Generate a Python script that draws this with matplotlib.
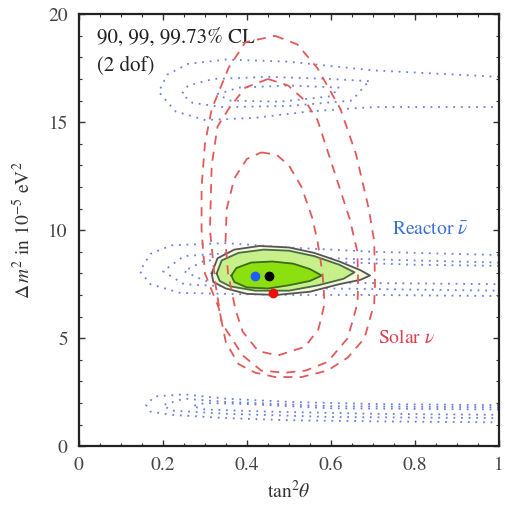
import numpy as np
import matplotlib.pyplot as plt
from matplotlib.ticker import MultipleLocator

plt.rcParams['font.family'] = ['STIXGeneral', 'DejaVu Serif']
plt.rcParams['mathtext.fontset'] = 'stix'

# contour outlines, (tan^2 theta, dm^2 in 1e-5 eV^2)
solar_90 = [(0.434, 13.6), (0.47, 13.5), (0.50, 13.0), (0.53, 12.0), (0.555, 10.6),
            (0.568, 9.5), (0.58, 8.0), (0.585, 6.6), (0.57, 5.4), (0.538, 4.6),
            (0.474, 4.2), (0.427, 4.4), (0.39, 5.3), (0.373, 6.3), (0.355, 8.0),
            (0.349, 9.5), (0.352, 11.0), (0.37, 12.4), (0.40, 13.3)]
solar_99 = [(0.45, 17.0), (0.498, 16.7), (0.538, 16.0), (0.568, 15.1), (0.61, 12.6),
            (0.645, 10.5), (0.663, 9.0), (0.665, 7.5), (0.663, 6.6), (0.64, 5.0),
            (0.592, 3.9), (0.54, 3.5), (0.49, 3.4), (0.434, 3.5), (0.39, 4.2),
            (0.34, 5.7), (0.325, 7.5), (0.312, 10.0), (0.316, 13.0), (0.33, 14.8),
            (0.356, 15.6), (0.396, 16.6)]
solar_9973 = [(0.467, 19.0), (0.52, 18.6), (0.568, 17.5), (0.623, 15.6), (0.66, 13.5),
              (0.69, 11.0), (0.703, 9.5), (0.705, 7.5), (0.703, 6.6), (0.68, 5.0),
              (0.64, 4.1), (0.592, 3.5), (0.53, 3.2), (0.467, 3.2), (0.42, 3.4),
              (0.38, 3.8), (0.35, 4.8), (0.333, 6.4), (0.30, 8.0), (0.292, 10.0),
              (0.292, 12.0), (0.30, 14.0), (0.316, 15.6), (0.356, 17.5), (0.396, 18.7)]

reactor_top = [
    [(1.0, 17.1), (0.7, 17.4), (0.5, 17.8), (0.35, 17.9), (0.26, 17.7), (0.21, 17.2),
     (0.19, 16.4), (0.23, 15.5), (0.30, 15.1), (0.42, 15.2), (0.55, 15.5), (0.7, 15.7), (1.0, 15.7)],
    [(0.69, 16.9), (0.6, 17.0), (0.45, 17.1), (0.32, 17.0), (0.26, 16.7), (0.245, 16.3),
     (0.27, 15.9), (0.34, 15.7), (0.5, 15.75), (0.65, 16.0), (0.69, 16.9)],
    [(0.62, 16.6), (0.5, 16.7), (0.38, 16.6), (0.33, 16.3), (0.36, 16.0), (0.48, 15.95),
     (0.6, 16.2), (0.62, 16.6)],
]
reactor_mid = [
    [(1.0, 8.85), (0.7, 9.0), (0.5, 9.2), (0.35, 9.4), (0.22, 9.3), (0.17, 8.9),
     (0.145, 8.1), (0.17, 7.5), (0.24, 7.1), (0.35, 7.05), (0.5, 7.0), (0.7, 7.0), (1.0, 6.95)],
    [(1.0, 8.5), (0.6, 8.7), (0.4, 9.0), (0.25, 8.8), (0.2, 8.1), (0.25, 7.5),
     (0.4, 7.35), (0.6, 7.3), (1.0, 7.2)],
    [(1.0, 8.35), (0.8, 8.4), (0.5, 8.6), (0.3, 8.6), (0.25, 8.1), (0.3, 7.65),
     (0.5, 7.6), (0.7, 7.55), (1.0, 7.5)],
]
reactor_low = [
    [(1.0, 1.9), (0.7, 1.95), (0.5, 2.05), (0.35, 2.2), (0.25, 2.4), (0.18, 2.3),
     (0.16, 1.9), (0.17, 1.6), (0.22, 1.45), (0.35, 1.3), (0.5, 1.2), (0.7, 1.15), (1.0, 1.1)],
    [(1.0, 1.8), (0.6, 1.85), (0.35, 2.05), (0.25, 2.2), (0.2, 1.9), (0.22, 1.65),
     (0.35, 1.5), (0.6, 1.35), (1.0, 1.3)],
    [(1.0, 1.7), (0.6, 1.75), (0.4, 1.95), (0.3, 2.0), (0.27, 1.85), (0.3, 1.7),
     (0.45, 1.6), (0.7, 1.5), (1.0, 1.45)],
]

combined_9973 = [(0.316, 8.0), (0.33, 8.7), (0.37, 9.1), (0.43, 9.27), (0.5, 9.2),
                 (0.56, 8.95), (0.62, 8.55), (0.67, 8.15), (0.693, 7.9), (0.67, 7.7),
                 (0.62, 7.5), (0.55, 7.15), (0.47, 7.0), (0.40, 7.05), (0.35, 7.3), (0.32, 7.6)]
combined_99 = [(0.328, 8.0), (0.34, 8.6), (0.38, 8.95), (0.44, 9.1), (0.5, 9.05),
               (0.56, 8.8), (0.62, 8.4), (0.656, 8.05), (0.63, 7.75), (0.57, 7.45),
               (0.5, 7.2), (0.42, 7.2), (0.36, 7.4), (0.335, 7.65)]
combined_90 = [(0.363, 7.9), (0.375, 8.25), (0.41, 8.5), (0.46, 8.55), (0.51, 8.45),
               (0.55, 8.2), (0.578, 7.9), (0.55, 7.65), (0.5, 7.45), (0.45, 7.3),
               (0.40, 7.35), (0.37, 7.6)]

best_kamland = (0.42, 7.9)
best_global = (0.453, 7.9)
best_solar = (0.462, 7.1)

x_ticks = [0, 0.2, 0.4, 0.6, 0.8, 1.0]
x_tick_labels = ['0', '0.2', '0.4', '0.6', '0.8', '1']


def closed(pts):
    a = np.array(pts + [pts[0]])
    return a[:, 0], a[:, 1]


fig = plt.figure(figsize=(5.06, 5.07), dpi=100)
ax = fig.add_axes([0.156, 0.120, 0.830, 0.852])

# reactor (blue dotted)
for band in (reactor_top, reactor_mid, reactor_low):
    for c in band:
        a = np.array(c)
        ax.plot(a[:, 0], a[:, 1], color='#6a7fe0', lw=1.3, ls=(0, (1, 3.2)))

# combined fit (filled)
for pts, fc, ec in ((combined_9973, '#f6f9dc', '#555555'),
                    (combined_99, '#c8f08a', '#4a6a4a'),
                    (combined_90, '#8ce010', '#3f6a20')):
    x, y = closed(pts)
    ax.fill(x, y, color=fc, zorder=2)
    ax.plot(x, y, color=ec, lw=1.3, zorder=3)

# solar (red dashed)
for pts in (solar_90, solar_99, solar_9973):
    x, y = closed(pts)
    ax.plot(x, y, color='#e05a5a', lw=1.3, ls=(0, (5, 4)), zorder=4)

ax.plot(*best_kamland, 'o', color='#1f5fff', ms=6, zorder=5)
ax.plot(*best_global, 'o', color='black', ms=6, zorder=5)
ax.plot(*best_solar, 'o', color='#ee1010', ms=6, zorder=5)

ax.text(0.042, 18.9, '90, 99, 99.73% CL', fontsize=15, va='center', color='#222222')
ax.text(0.042, 17.6, '(2 dof)', fontsize=15, va='center', color='#222222')
ax.text(0.745, 10.0, r'Reactor $\bar{\nu}$', fontsize=14, va='center', color='#3a6fd8')
ax.text(0.712, 5.0, r'Solar $\nu$', fontsize=14, va='center', color='#d84050')

ax.set_xlim(0, 1)
ax.set_ylim(0, 20)
ax.set_xticks(x_ticks, x_tick_labels)
ax.xaxis.set_minor_locator(MultipleLocator(0.05))
ax.yaxis.set_major_locator(MultipleLocator(5))
ax.yaxis.set_minor_locator(MultipleLocator(1))
ax.tick_params(which='both', direction='in', top=True, right=True, labelsize=14,
               colors='#333333', labelcolor='#444444')
ax.tick_params(which='major', length=4, width=1, pad=8)
ax.tick_params(which='minor', length=2, width=0.8)
for s in ax.spines.values():
    s.set_linewidth(1.6)
    s.set_color('#222222')

ax.set_xlabel(r'tan$^2\theta$', fontsize=14, labelpad=4, color='#333333')
ax.set_ylabel(r'$\Delta\,m^2$ in 10$^{-5}$ eV$^2$', fontsize=14, labelpad=10, color='#333333')

fig.savefig('out.png', dpi=100)
